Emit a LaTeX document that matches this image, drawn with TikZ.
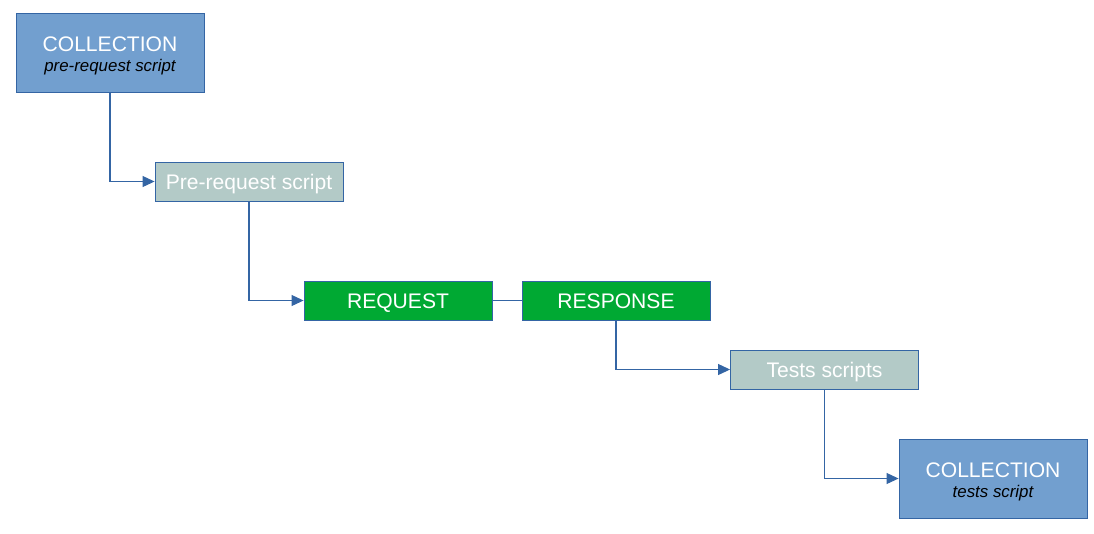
\documentclass[tikz,border=0pt]{standalone}
\usepackage{fontspec}
\setmainfont{Liberation Sans}
\definecolor{collblue}{HTML}{729FCF}
\definecolor{lineblue}{HTML}{3465A4}
\definecolor{scriptgrey}{HTML}{B3CAC7}
\definecolor{reqgreen}{HTML}{00A933}
\usetikzlibrary{arrows.meta, positioning}
\tikzset{
	basenode/.style={
			rectangle,
			draw=lineblue,
			line width=0.5pt,
			minimum width=37.6mm,
			minimum height=7.8mm,
			inner sep=0pt,
			text=white,
			font=\fontsize{12}{14}\selectfont
		},
	collnode/.style={
			basenode,
			fill=collblue,
			minimum height=15.8mm,
			align=center
		},
	scriptnode/.style={
			basenode,
			fill=scriptgrey,
			text height=8.6pt,
			text depth=0pt
		},
	reqnode/.style={
			basenode,
			fill=reqgreen,
			text height=8.6pt,
			text depth=0pt
		},
	link/.style={
			draw=lineblue,
			line width=0.6pt,
			-{Triangle[length=2.4mm,width=2.2mm]}
		},
	plainlink/.style={
			draw=lineblue,
			line width=0.6pt
		}
}
\newcommand{\colltitle}[1]{\rule{0pt}{12.3pt}#1}
\newcommand{\subtext}[1]{{\fontsize{9.6}{11}\selectfont\itshape\color{black}#1}}
\begin{document}
\begin{tikzpicture}[x=0.2mm, y=-0.2mm]
\useasboundingbox (0,0) rectangle (1094,533);
\node[collnode] (coll1) at (110,52.5) {\colltitle{COLLECTION}\\[-2.5pt]\subtext{pre-request script}};
\node[scriptnode] (pre) at (249,181.5) {Pre-request script};
\node[reqnode] (req) at (398,300.5) {REQUEST};
\node[reqnode] (resp) at (616,300.5) {RESPONSE};
\node[scriptnode] (tests) at (824.5,369.5) {Tests scripts};
\node[collnode] (coll2) at (993,478.5) {\colltitle{COLLECTION}\\[-2.5pt]\subtext{tests script}};

\draw[link] (coll1.south) |- (pre.west);
\draw[link] (pre.south) |- (req.west);
\draw[plainlink] (req) -- (resp);
\draw[link] (resp.south) |- (tests.west);
\draw[link] (tests.south) |- (coll2.west);
\end{tikzpicture}
\end{document}
